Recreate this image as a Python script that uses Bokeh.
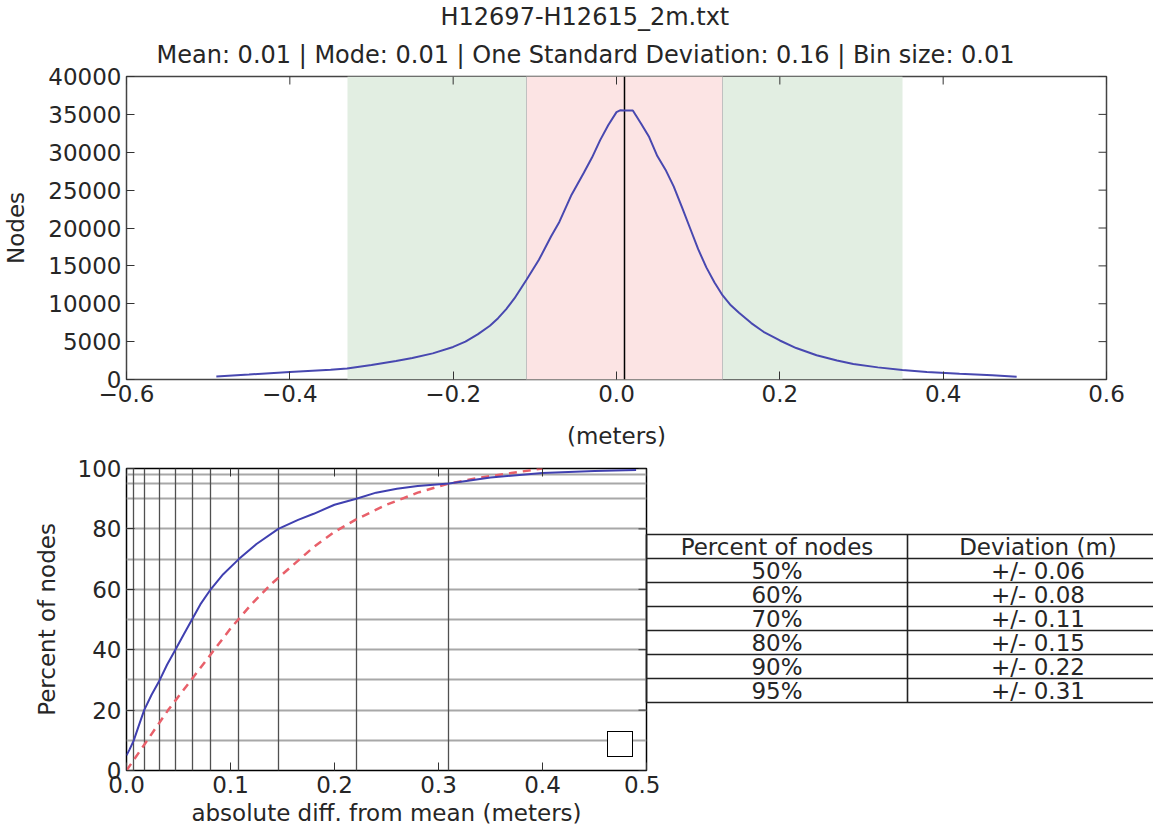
import math
from bokeh.plotting import figure
from bokeh.models import Range1d, FixedTicker, Title, Legend, LegendItem
from bokeh.layouts import column, row
from bokeh.embed import file_html
from bokeh.resources import INLINE
from bokeh.core.properties import value

FONT = "DejaVu Sans"
TXT = "#262626"

# ---------------- data ----------------
title_main = "H12697-H12615_2m.txt"
title_sub = "Mean: 0.01 | Mode: 0.01 | One Standard Deviation: 0.16 | Bin size: 0.01"

hist_x = [-0.49, -0.45, -0.40, -0.35, -0.33, -0.30, -0.27, -0.25, -0.225, -0.20,
          -0.185, -0.17, -0.155, -0.145, -0.135, -0.125, -0.11, -0.095, -0.08, -0.07,
          -0.055, -0.04, -0.03, -0.02, -0.01, 0.0, 0.005, 0.01, 0.02, 0.03,
          0.04, 0.05, 0.06, 0.07, 0.08, 0.09, 0.10, 0.11, 0.12, 0.13,
          0.14, 0.15, 0.165, 0.18, 0.20, 0.22, 0.245, 0.27, 0.29, 0.32,
          0.35, 0.38, 0.42, 0.46, 0.49]
hist_n = [380, 650, 1000, 1300, 1450, 1900, 2450, 2850, 3450, 4300,
          5000, 5950, 7100, 8100, 9300, 10700, 13200, 15800, 18900, 20800,
          24400, 27300, 29300, 31600, 33600, 35300, 35550, 35500, 35500, 33800,
          32000, 29500, 27700, 25500, 22800, 20000, 17200, 14800, 12800, 11100,
          9800, 8800, 7450, 6300, 5150, 4150, 3200, 2500, 2050, 1600,
          1250, 1000, 770, 560, 370]
mean_val = 0.01
band_red = [-0.11, 0.13]
band_green = [-0.33, 0.35]

top_xticks = [-0.6, -0.4, -0.2, 0.0, 0.2, 0.4, 0.6]
top_xtick_labels = ["\u22120.6", "\u22120.4", "\u22120.2", "0.0", "0.2", "0.4", "0.6"]
top_yticks = [0, 5000, 10000, 15000, 20000, 25000, 30000, 35000, 40000]

cdf_x = [0.0, 0.003, 0.007, 0.012, 0.017, 0.024, 0.032, 0.039, 0.047, 0.055,
         0.063, 0.071, 0.081, 0.093, 0.108, 0.125, 0.146, 0.165, 0.18, 0.20,
         0.221, 0.24, 0.26, 0.28, 0.31, 0.35, 0.40, 0.45, 0.49]
cdf_y = [5, 7, 10, 15, 20, 25, 30, 35, 40, 45,
         50, 55, 60, 65, 70, 75, 80, 83, 85, 88,
         90, 92, 93.3, 94.2, 95, 97, 98.5, 99.2, 99.5]
norm_x = [0.0, 0.02, 0.04, 0.06, 0.08, 0.10, 0.12, 0.14, 0.16, 0.18,
          0.20, 0.22, 0.25, 0.28, 0.31, 0.34, 0.37, 0.40]
norm_y = [0, 10, 20, 29, 38, 47, 55, 62, 68, 74,
          79, 83, 88, 92, 95, 97, 98.5, 100]
grid_pct = [10, 20, 30, 40, 50, 60, 70, 80, 90, 95, 98]
grid_dev = [0.007, 0.017, 0.032, 0.047, 0.063, 0.081, 0.108, 0.146, 0.221, 0.31]
bot_xticks = [0.0, 0.1, 0.2, 0.3, 0.4, 0.5]
bot_xtick_labels = ["0.0", "0.1", "0.2", "0.3", "0.4", "0.5"]
bot_yticks = [0, 20, 40, 60, 80, 100]

table_header = ["Percent of nodes", "Deviation (m)"]
table_pct = ["50%", "60%", "70%", "80%", "90%", "95%"]
table_dev = ["+/- 0.06", "+/- 0.08", "+/- 0.11", "+/- 0.15", "+/- 0.22", "+/- 0.31"]


def style_axis(ax):
    ax.major_tick_in = 8
    ax.major_tick_out = 0
    ax.minor_tick_line_color = None
    ax.axis_line_color = None
    ax.major_tick_line_color = "#333333"
    ax.major_tick_line_width = 1
    ax.major_label_text_font = FONT
    ax.major_label_text_color = TXT
    ax.major_label_text_font_size = "23px"
    ax.axis_label_text_font = FONT
    ax.axis_label_text_font_style = "normal"
    ax.axis_label_text_color = TXT
    ax.axis_label_text_font_size = "23px"


def mirror_ticks(p, xticks, yticks, xr, yr):
    # inward tick marks on the top and right spines
    p.ray(x=xticks, y=[yr.end] * len(xticks), length=8, length_units="screen",
          angle=-math.pi / 2, line_color="#333333", line_width=1)
    p.ray(x=[xr.end] * len(yticks), y=yticks, length=8, length_units="screen",
          angle=math.pi, line_color="#333333", line_width=1)


# ---------------- top histogram ----------------
xr1 = Range1d(-0.6, 0.6)
yr1 = Range1d(0, 40000)
p1 = figure(frame_width=980, frame_height=303, x_range=xr1, y_range=yr1,
            output_backend="svg", toolbar_location=None, title_location=None,
            min_border_left=119, min_border_right=46, min_border_top=70, min_border_bottom=60)
p1.xgrid.visible = False
p1.ygrid.visible = False
p1.outline_line_color = "#444444"
p1.outline_line_width = 1.5

p1.vstrip(x0=[band_green[0]], x1=[band_green[1]], fill_color="#e2eee2", line_color=None)
p1.vstrip(x0=[band_red[0]], x1=[band_red[1]], fill_color="#fce4e4", line_color="#c0c0c0", line_width=1)
p1.vspan(x=[mean_val], line_color="black", line_width=1.5)
p1.line(hist_x, hist_n, line_color="#4848b0", line_width=2)
mirror_ticks(p1, top_xticks, top_yticks, xr1, yr1)

p1.xaxis.ticker = FixedTicker(ticks=top_xticks)
p1.xaxis.major_label_overrides = dict(zip(top_xticks, top_xtick_labels))
p1.yaxis.ticker = FixedTicker(ticks=top_yticks)
p1.xaxis.axis_label = "(meters)"
p1.yaxis.axis_label = "Nodes"
style_axis(p1.xaxis[0])
style_axis(p1.yaxis[0])
p1.xaxis.axis_label_standoff = 18
p1.yaxis.axis_label_standoff = 16

p1.add_layout(Title(text=title_sub, align="left", offset=30, standoff=16, text_font=FONT,
                    text_font_size="24px", text_font_style="normal", text_color=TXT), "above")
p1.add_layout(Title(text=title_main, align="left", offset=314, standoff=0, text_font=FONT,
                    text_font_size="24px", text_font_style="normal", text_color=TXT), "above")

# ---------------- bottom cumulative ----------------
B_TOP, B_BOT, B_FH = 17, 59, 302
xr2 = Range1d(0, 0.5)
yr2 = Range1d(0, 100)
p2 = figure(frame_width=520, frame_height=B_FH, x_range=xr2, y_range=yr2,
            output_backend="svg", toolbar_location=None, title_location=None,
            min_border_left=126, min_border_right=14, min_border_top=B_TOP, min_border_bottom=B_BOT)
p2.xgrid.visible = False
p2.ygrid.visible = False
p2.outline_line_color = "black"
p2.outline_line_width = 1.5

p2.hspan(y=grid_pct, line_color="#a8a8a8", line_width=2)
p2.vspan(x=grid_dev, line_color="#505050", line_width=1.3)
p2.line(norm_x, norm_y, line_color="#e8606a", line_width=2.5, line_dash="8 6")
p2.line(cdf_x, cdf_y, line_color="#4040b0", line_width=2)
mirror_ticks(p2, bot_xticks, bot_yticks, xr2, yr2)
dummy = p2.line(x=[0.0], y=[0.0], line_alpha=0)

p2.xaxis.ticker = FixedTicker(ticks=bot_xticks)
p2.xaxis.major_label_overrides = dict(zip(bot_xticks, bot_xtick_labels))
p2.yaxis.ticker = FixedTicker(ticks=bot_yticks)
p2.xaxis.axis_label = "absolute diff. from mean (meters)"
p2.yaxis.axis_label = "Percent of nodes"
style_axis(p2.xaxis[0])
style_axis(p2.yaxis[0])
p2.xaxis.axis_label_standoff = 4
p2.yaxis.axis_label_standoff = 15

leg = Legend(items=[LegendItem(label=" ", renderers=[dummy])], location="bottom_right",
             glyph_width=20, glyph_height=20, padding=2, margin=13, label_standoff=0,
             label_width=0, label_height=0, label_text_font_size="1px",
             border_line_color="black", border_line_width=1.5, border_line_alpha=1.0,
             background_fill_color="white", background_fill_alpha=1.0)
p2.add_layout(leg)

# ---------------- table ----------------
col_w = 261          # px per table column
row_h = 24           # px per table row
t_top = 66           # px from frame top to table top
t_left_pad = 6
t_width = 513
n_rows = len(table_pct) + 1
p3 = figure(frame_width=t_width, frame_height=B_FH,
            x_range=Range1d(-t_left_pad / col_w, (t_width - t_left_pad) / col_w),
            y_range=Range1d((B_FH - t_top) / row_h, -t_top / row_h),
            output_backend="svg", toolbar_location=None, title_location=None,
            min_border_left=0, min_border_right=0, min_border_top=B_TOP, min_border_bottom=B_BOT)
p3.axis.visible = False
p3.grid.visible = False
p3.outline_line_color = None
p3.background_fill_alpha = 0
p3.border_fill_alpha = 0
p3.margin = (0, 0, 0, -20)

rows_y = list(range(n_rows + 1))
p3.segment(x0=[0] * len(rows_y), y0=rows_y, x1=[2] * len(rows_y), y1=rows_y,
           line_color="#222222", line_width=1.6)
p3.segment(x0=[0, 1], y0=[0, 0], x1=[0, 1], y1=[n_rows, n_rows],
           line_color="#222222", line_width=1.6)

col0 = [table_header[0]] + table_pct
col1 = [table_header[1]] + table_dev
ys = [i + 0.5 for i in range(n_rows)]
p3.text(x=[0.5] * n_rows, y=ys, text=col0, text_align="center", text_baseline="middle",
        text_font=value(FONT), text_font_size="23px", text_color=TXT)
p3.text(x=[1.5] * n_rows, y=ys, text=col1, text_align="center", text_baseline="middle",
        text_font=value(FONT), text_font_size="23px", text_color=TXT)

layout = column(p1, row(p2, p3))
open("out.html", "w").write(file_html(layout, INLINE))
